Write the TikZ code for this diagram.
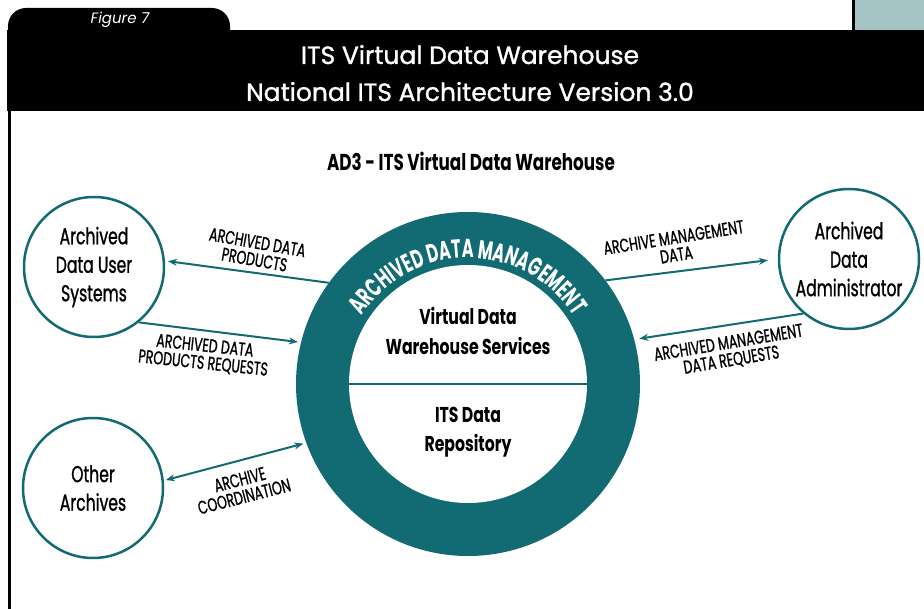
\documentclass[tikz,border=0pt]{standalone}
\usepackage{fontspec}
\setmainfont{Poppins}
\newfontfamily\headfont[FakeBold=1.2]{Poppins}
\newfontfamily\condfont[FakeStretch=0.68,FakeBold=1.0]{Poppins}
\newfontfamily\cbfont[FakeStretch=0.73]{Poppins}
\newfontfamily\ringfont[FakeStretch=0.62]{Poppins}
\usetikzlibrary{arrows.meta,decorations.text}
\definecolor{teal0}{HTML}{126B73}
\definecolor{grayteal}{HTML}{A5C3C5}
\begin{document}
\begin{tikzpicture}[x=1pt,y=1pt,
  ext/.style={circle, draw=teal0, line width=2.5pt, fill=white, minimum size=140pt, inner sep=0pt, align=center, font=\condfont\fontsize{23}{28.5}\selectfont},
  flow/.style={draw=teal0, line width=2pt, -{Stealth[length=9pt,width=7pt]}},
  lbl/.style={align=center, inner sep=0pt, font=\condfont\fontsize{18.5}{17.5}\selectfont},
  innertxt/.style={align=center, inner sep=0pt, font=\cbfont\bfseries\fontsize{21.5}{29.5}\selectfont}]
\useasboundingbox (0,0) rectangle (924,-609);
\fill[white] (0,0) rectangle (924,-609);
% top decorations
\fill[grayteal] (853,0) rectangle (924,-31);
\fill[black] (852,0) rectangle (855,-31);
\fill[black] (8,-40) -- (8,-26) arc[start angle=180,end angle=90,radius=18] -- (212,-8) arc[start angle=90,end angle=0,radius=18] -- (230,-40) -- cycle;
\fill[black] (7,-30) rectangle (924,-111);
\fill[black] (8,-111) rectangle (11,-609);
\node[text=white, font=\itshape\fontsize{15}{18}\selectfont] (fig) at (120,-20) {Figure 7};
\node[text=white, font=\headfont\fontsize{25}{28}\selectfont, anchor=base] (h1) at (470,-64) {ITS Virtual Data Warehouse};
\node[text=white, font=\headfont\fontsize{25}{28}\selectfont, anchor=base] (h2) at (470,-101) {National ITS Architecture Version 3.0};
\node[font=\cbfont\bfseries\fontsize{23}{28}\selectfont, anchor=base] (title) at (471,-171) {AD3 - ITS Virtual Data Warehouse};
% central ring
\node[circle, fill=teal0, minimum size=344pt, inner sep=0pt] (ring) at (468,-384) {};
\node[circle, fill=white, minimum size=238pt, inner sep=0pt] (core) at (468,-384) {};
\draw[teal0, line width=2.5pt] (core.west) -- (core.east);
\path[decorate, decoration={text along path, text color=white, text align=center,
  text={|\ringfont\bfseries\fontsize{26}{30}\selectfont|ARCHIVED DATA MANAGEMENT}}]
  (468,-384) ++(172:126) arc[start angle=172, end angle=8, radius=126];
\node[innertxt] (vdw) at (468,-331) {Virtual Data\\Warehouse Services};
\node[innertxt] (repo) at (468,-432) {ITS Data\\Repository};
% external entities
\node[ext] (user) at (94,-267) {Archived\\Data User\\Systems};
\node[ext] (other) at (93,-488) {Other\\Archives};
\node[ext] (admin) at (849,-259) {Archived\\Data\\Administrator};
% flows
\draw[flow, shorten >=3pt] (ring.144) -- (user.5);
\draw[flow, shorten >=3pt] (user.-51) -- (ring.166);
\draw[flow, shorten >=10pt] (ring.37) -- (admin.180);
\draw[flow, shorten >=5pt] (admin.230) -- (ring.15);
\draw[flow, {Stealth[length=9pt,width=7pt]}-{Stealth[length=9pt,width=7pt]}, shorten <=2pt, shorten >=3pt] (other.6) -- (ring.200);
% labels
\node[lbl, rotate=-10] (l1) at (256,-251) {ARCHIVED DATA\\PRODUCTS};
\node[lbl, rotate=-6] (l2) at (204,-355) {ARCHIVED DATA\\PRODUCTS REQUESTS};
\node[lbl, rotate=9] (l3) at (675,-246) {ARCHIVE MANAGEMENT\\DATA};
\node[lbl, rotate=9.5] (l4) at (730,-352) {ARCHIVED MANAGEMENT\\DATA REQUESTS};
\node[lbl, rotate=14.5] (l5) at (242,-488) {ARCHIVE\\COORDINATION};
\end{tikzpicture}
\end{document}
